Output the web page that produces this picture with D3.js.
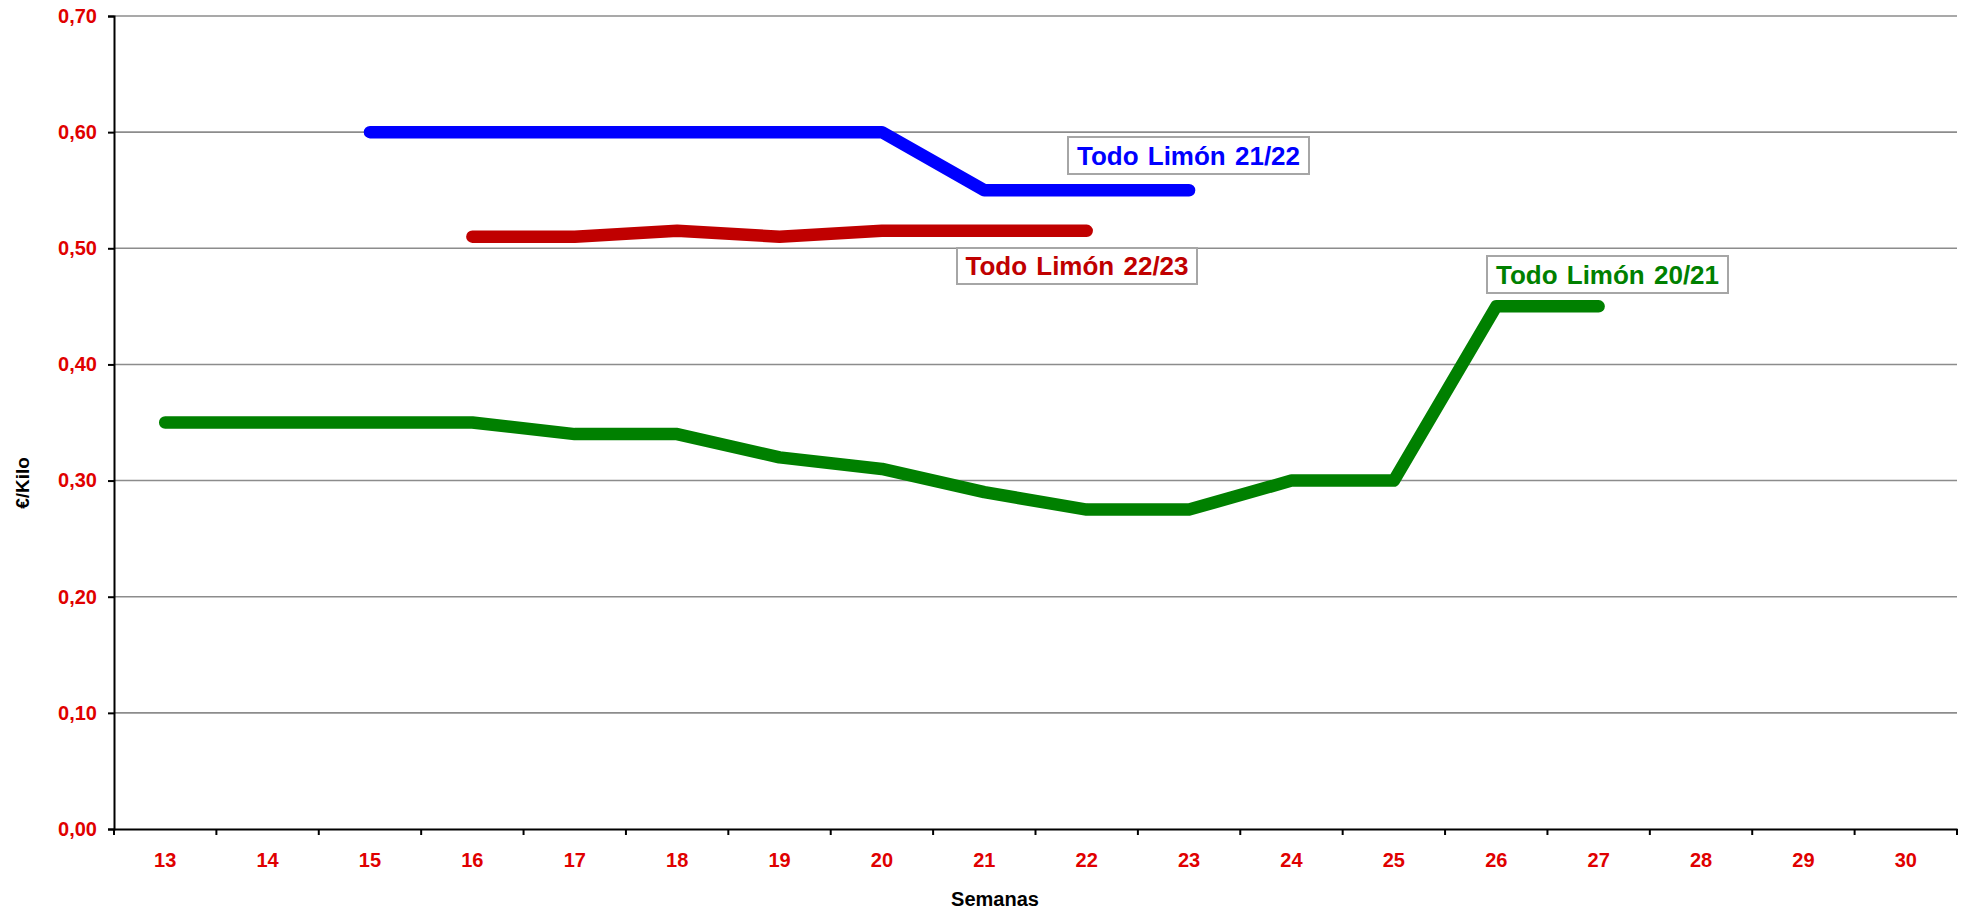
<!DOCTYPE html>
<html>
<head>
<meta charset="utf-8">
<script src="https://cdn.jsdelivr.net/npm/d3@7"></script>
<style>
  html, body { margin: 0; padding: 0; background: #fff; }
  svg { display: block; font-family: "Liberation Sans", Arial, sans-serif; }
</style>
</head>
<body>
<svg id="chart" width="1966" height="913"></svg>
<script>
// ---- data ----
const weeks = ["13","14","15","16","17","18","19","20","21","22","23","24","25","26","27","28","29","30"];
const yTicks = [0, 0.1, 0.2, 0.3, 0.4, 0.5, 0.6, 0.7];

const weeks2021 = ["13","14","15","16","17","18","19","20","21","22","23","24","25","26","27"];
const values2021 = [0.35,0.35,0.35,0.35,0.34,0.34,0.32,0.31,0.29,0.275,0.275,0.30,0.30,0.45,0.45];

const weeks2122 = ["15","16","17","18","19","20","21","22","23"];
const values2122 = [0.60,0.60,0.60,0.60,0.60,0.60,0.55,0.55,0.55];

const weeks2223 = ["16","17","18","19","20","21","22"];
const values2223 = [0.51,0.51,0.515,0.51,0.515,0.515,0.515];

const seriesNames = ["Todo Limón 20/21", "Todo Limón 21/22", "Todo Limón 22/23"];
const yTitle = "€/Kilo";
const xTitle = "Semanas";

// ---- layout ----
const L = 114, R = 1957, T = 16, B = 829;
const svg = d3.select("#chart");

const x = d3.scaleBand().domain(weeks).range([L, R]).paddingInner(0).paddingOuter(0);
const y = d3.scaleLinear().domain([0, 0.7]).range([B, T]);

// gridlines
svg.append("g").selectAll("line").data(yTicks.filter(d => d > 0)).join("line")
  .attr("x1", L).attr("x2", R)
  .attr("y1", d => y(d)).attr("y2", d => y(d))
  .attr("stroke", "#8c8c8c").attr("stroke-width", 1.6);

// y axis
const yAxis = d3.axisLeft(y).tickValues(yTicks).tickSize(6).tickPadding(11)
  .tickFormat(d => d3.format(".2f")(d).replace(".", ","));
const gy = svg.append("g").attr("transform", `translate(${L},0)`).call(yAxis);
gy.select(".domain").attr("stroke", "#000").attr("stroke-width", 2);
gy.selectAll(".tick line").attr("stroke", "#000").attr("stroke-width", 2);
gy.selectAll(".tick text").attr("fill", "#e00000").attr("font-size", 20)
  .attr("font-weight", "bold").attr("font-family", "Liberation Sans, Arial, sans-serif");

// x axis
const xAxis = d3.axisBottom(x).tickSize(0).tickPadding(24);
const gx = svg.append("g").attr("transform", `translate(0,${B})`).call(xAxis);
gx.select(".domain").attr("stroke", "#000").attr("stroke-width", 2);
gx.selectAll(".tick text").attr("fill", "#e00000").attr("font-size", 20)
  .attr("font-weight", "bold").attr("font-family", "Liberation Sans, Arial, sans-serif");
// x tick marks at category boundaries
const bounds = weeks.map(w => x(w)).concat([x(weeks[weeks.length - 1]) + x.bandwidth()]);
svg.append("g").selectAll("line").data(bounds).join("line")
  .attr("x1", d => d).attr("x2", d => d)
  .attr("y1", B).attr("y2", B + 6)
  .attr("stroke", "#000").attr("stroke-width", 2);

// lines
const cx = w => x(w) + x.bandwidth() / 2;
const line = d3.line().x(d => cx(d[0])).y(d => y(d[1]));
const series = [
  { w: weeks2021, v: values2021, color: "#008000" },
  { w: weeks2122, v: values2122, color: "#0000ff" },
  { w: weeks2223, v: values2223, color: "#c00000" }
];
svg.append("g").selectAll("path").data(series).join("path")
  .attr("d", s => line(s.w.map((w, i) => [w, s.v[i]])))
  .attr("fill", "none")
  .attr("stroke", s => s.color)
  .attr("stroke-width", 12.5)
  .attr("stroke-linecap", "round")
  .attr("stroke-linejoin", "round");

// labels
const labels = [
  { text: seriesNames[1], color: "#0000ff", x: 1068, y: 137, w: 241, h: 37 },
  { text: seriesNames[2], color: "#c00000", x: 957, y: 248, w: 240, h: 36 },
  { text: seriesNames[0], color: "#008000", x: 1487, y: 256, w: 241, h: 37 }
];
const lg = svg.append("g").selectAll("g").data(labels).join("g");
lg.append("rect")
  .attr("x", d => d.x).attr("y", d => d.y).attr("width", d => d.w).attr("height", d => d.h)
  .attr("fill", "#fff").attr("stroke", "#a6a6a6").attr("stroke-width", 2);
lg.append("text")
  .attr("x", d => d.x + d.w / 2).attr("y", d => d.y + d.h / 2 + 9)
  .attr("text-anchor", "middle")
  .attr("font-size", 26).attr("font-weight", "bold")
  .attr("fill", d => d.color)
  .attr("word-spacing", 2)
  .text(d => d.text);

// axis titles
svg.append("text")
  .attr("transform", `translate(29,483) rotate(-90)`)
  .attr("text-anchor", "middle")
  .attr("font-size", 19).attr("font-weight", "bold").attr("fill", "#000")
  .text(yTitle);
svg.append("text")
  .attr("x", 995).attr("y", 906)
  .attr("text-anchor", "middle")
  .attr("font-size", 20).attr("font-weight", "bold").attr("fill", "#000")
  .text(xTitle);
</script>
</body>
</html>
